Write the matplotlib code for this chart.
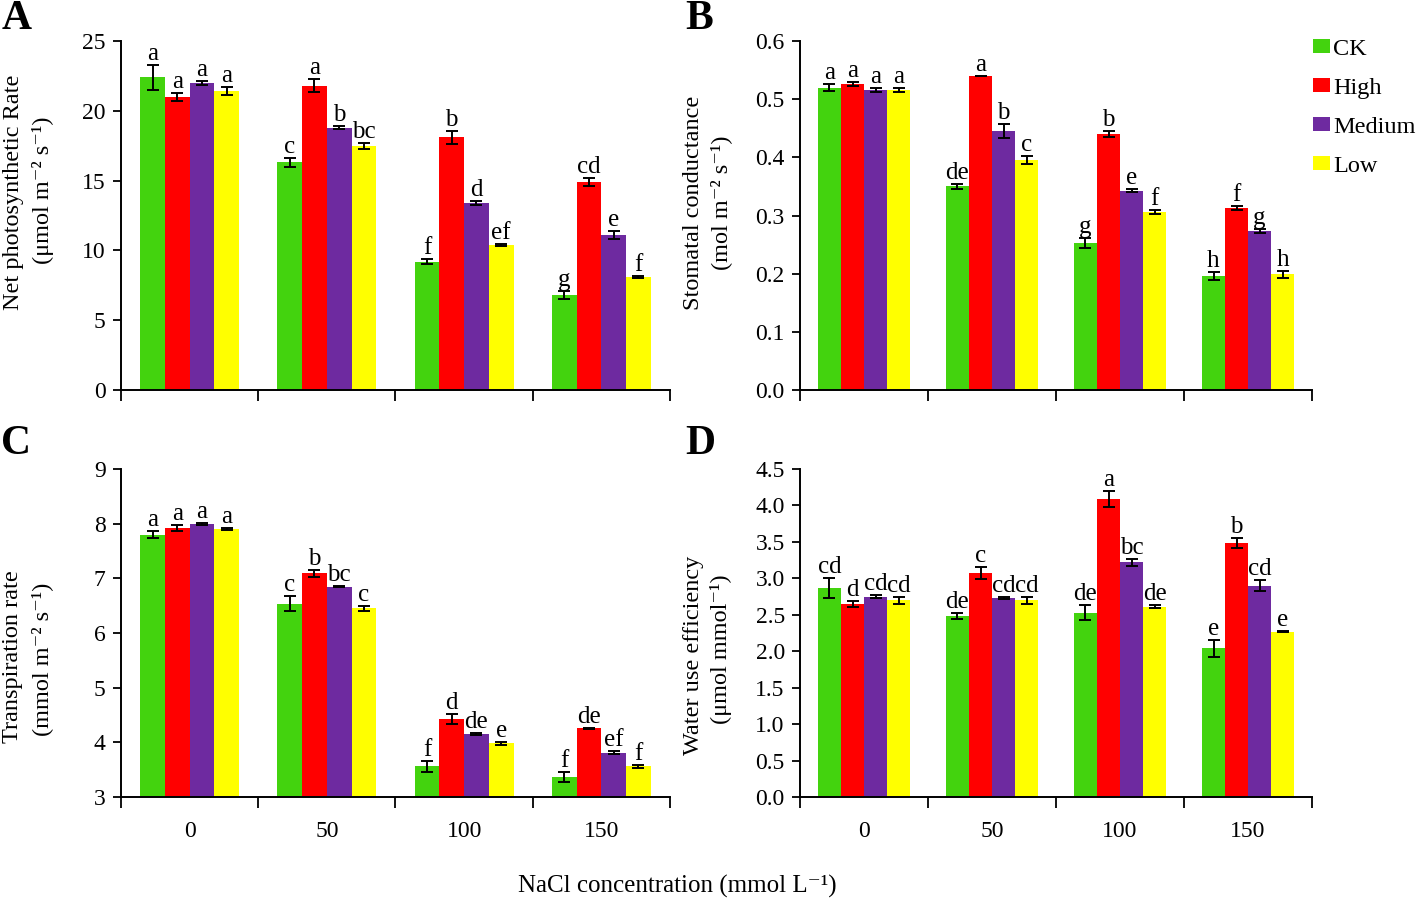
import matplotlib
matplotlib.use('Agg')
import matplotlib.pyplot as plt
from matplotlib.patches import Patch
import numpy as np

plt.rcParams['font.family'] = ['Liberation Serif', 'DejaVu Serif']

nacl = ['0', '50', '100', '150']
treatments = ['CK', 'High', 'Medium', 'Low']
colors = ['#43D30E', '#FF0000', '#6E2AA0', '#FFFF00']

# A: net photosynthetic rate, rows = treatment, cols = NaCl level
pn = [[22.4, 16.3, 9.2, 6.8],
      [21.0, 21.8, 18.1, 14.9],
      [22.0, 18.8, 13.4, 11.1],
      [21.4, 17.5, 10.4, 8.1]]
pn_err = [[0.9, 0.3, 0.2, 0.3],
          [0.3, 0.45, 0.45, 0.3],
          [0.15, 0.1, 0.15, 0.3],
          [0.3, 0.2, 0.05, 0.1]]
pn_let = [['a', 'c', 'f', 'g'],
          ['a', 'a', 'b', 'cd'],
          ['a', 'b', 'd', 'e'],
          ['a', 'bc', 'ef', 'f']]

# B: stomatal conductance
gs = [[0.520, 0.350, 0.253, 0.196],
      [0.526, 0.540, 0.440, 0.313],
      [0.516, 0.446, 0.343, 0.273],
      [0.516, 0.396, 0.306, 0.199]]
gs_err = [[0.006, 0.005, 0.008, 0.007],
          [0.004, 0.0, 0.005, 0.003],
          [0.004, 0.012, 0.003, 0.003],
          [0.004, 0.007, 0.003, 0.006]]
gs_let = [['a', 'de', 'g', 'h'],
          ['a', 'a', 'b', 'f'],
          ['a', 'b', 'e', 'g'],
          ['a', 'c', 'f', 'h']]

# C: transpiration rate
tr = [[7.80, 6.54, 3.56, 3.37],
      [7.92, 7.09, 4.42, 4.26],
      [7.99, 6.85, 4.15, 3.81],
      [7.91, 6.45, 3.98, 3.56]]
tr_err = [[0.06, 0.14, 0.10, 0.09],
          [0.06, 0.07, 0.09, 0.01],
          [0.02, 0.01, 0.02, 0.03],
          [0.02, 0.04, 0.03, 0.03]]
tr_let = [['a', 'c', 'f', 'f'],
          ['a', 'b', 'd', 'de'],
          ['a', 'bc', 'de', 'ef'],
          ['a', 'c', 'e', 'f']]

# D: water use efficiency
wue = [[2.87, 2.48, 2.53, 2.04],
       [2.65, 3.07, 4.09, 3.49],
       [2.75, 2.73, 3.22, 2.90],
       [2.70, 2.70, 2.61, 2.27]]
wue_err = [[0.14, 0.04, 0.10, 0.12],
           [0.04, 0.08, 0.11, 0.07],
           [0.02, 0.02, 0.05, 0.08],
           [0.05, 0.05, 0.02, 0.01]]
wue_let = [['cd', 'de', 'de', 'e'],
           ['d', 'c', 'a', 'b'],
           ['cd', 'cd', 'bc', 'cd'],
           ['cd', 'cd', 'de', 'e']]

fig = plt.figure(figsize=(14.18, 9.02), dpi=100)
axA = fig.add_axes([0.0853, 0.5676, 0.3872, 0.3869])
axB = fig.add_axes([0.5642, 0.5676, 0.3611, 0.3869])
axC = fig.add_axes([0.0853, 0.1164, 0.3872, 0.3636])
axD = fig.add_axes([0.5642, 0.1164, 0.3611, 0.3636])

fs = 17
lfs = 18
yfs = 17.5
w = 0.18
x = np.arange(4)


def panel(ax, vals, errs, lets, ylim, yticks, fmt, lines, lpos, xlabels):
    for i in range(4):
        pos = x + (i - 1.5) * w
        heights = np.array(vals[i]) - ylim[0]
        ax.bar(pos, heights, w, bottom=ylim[0], color=colors[i], linewidth=0)
        ax.errorbar(pos, vals[i], yerr=errs[i], fmt='none', ecolor='black',
                    elinewidth=1.4, capsize=4, capthick=1.4)
        for p, v, e, l in zip(pos, vals[i], errs[i], lets[i]):
            ax.annotate(l, (p, v + e), xytext=(0, 0), textcoords='offset points',
                        ha='center', va='bottom', fontsize=lfs)
    ax.set_ylim(*ylim)
    ax.set_xlim(-0.5, 3.5)
    ax.set_yticks(yticks)
    ax.set_yticklabels([fmt.format(t) for t in yticks], fontsize=fs)
    ax.set_xticks(x)
    ax.set_xticks(np.arange(-0.5, 4, 1), minor=True)
    if xlabels:
        ax.set_xticklabels(nacl, fontsize=fs)
    else:
        ax.set_xticklabels([])
    ax.tick_params(axis='x', which='major', length=0, pad=17)
    ax.tick_params(axis='x', which='minor', length=8, width=1.3, direction='out')
    ax.tick_params(axis='y', length=6, width=1.3, direction='out', pad=5)
    for s in ['top', 'right']:
        ax.spines[s].set_visible(False)
    for s in ['left', 'bottom']:
        ax.spines[s].set_linewidth(1.4)
    for txt, (lx, ly) in zip(lines, lpos):
        ax.text(lx, ly, txt, transform=ax.transAxes, rotation=90,
                ha='center', va='center', fontsize=yfs)


panel(axA, pn, pn_err, pn_let, (0, 25), np.arange(0, 26, 5), '{:.0f}',
      ['Net photosynthetic Rate', '(μmol m⁻² s⁻¹)'],
      [(-0.195, 0.567), (-0.142, 0.573)], False)
panel(axB, gs, gs_err, gs_let, (0, 0.6), np.arange(0, 0.61, 0.1), '{:.1f}',
      ['Stomatal conductance', '(mol m⁻² s⁻¹)'],
      [(-0.209, 0.536), (-0.154, 0.536)], False)
panel(axC, tr, tr_err, tr_let, (3, 9), np.arange(3, 10, 1), '{:.0f}',
      ['Transpiration rate', '(mmol m⁻² s⁻¹)'],
      [(-0.197, 0.427), (-0.144, 0.42)], True)
panel(axD, wue, wue_err, wue_let, (0, 4.5), np.arange(0, 4.51, 0.5), '{:.1f}',
      ['Water use efficiency', '(μmol mmol⁻¹)'],
      [(-0.209, 0.433), (-0.154, 0.45)], True)

for lab, xx, yy in [('A', 0.001, 1.0), ('B', 0.483, 1.0),
                    ('C', 0.001, 0.529), ('D', 0.483, 0.529)]:
    fig.text(xx, yy, lab, fontsize=30, fontweight='bold', va='top', ha='left')

fig.text(0.478, 0.017, 'NaCl concentration (mmol L⁻¹)', fontsize=18,
         ha='center', va='center')

handles = [Patch(facecolor=c, edgecolor='none') for c in colors]
fig.legend(handles, treatments, loc='upper left', bbox_to_anchor=(0.926, 0.957),
           frameon=False, fontsize=17.5, handlelength=0.7, handleheight=0.5,
           handletextpad=0.12, labelspacing=0.74, borderpad=0, borderaxespad=0)

fig.savefig('out.png', dpi=100)
